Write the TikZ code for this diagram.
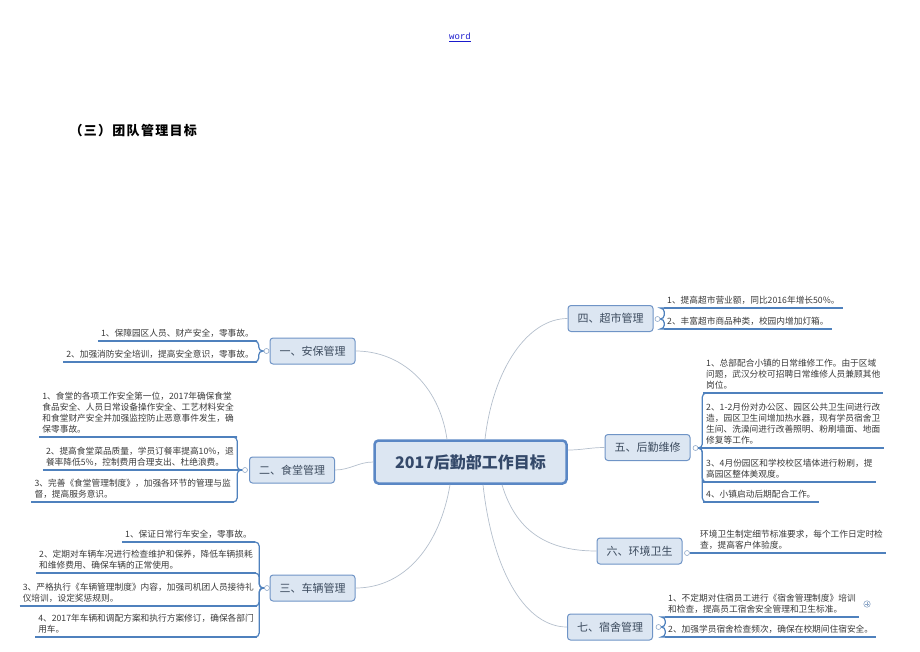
\documentclass[tikz,border=0pt]{standalone}
\usepackage{fontspec}
\setmainfont{Noto Sans CJK SC}
\newfontfamily\wordfont{Liberation Mono}
\usetikzlibrary{calc}
\definecolor{boxfill}{HTML}{DCE6F2}
\definecolor{boxline}{HTML}{6F94C6}
\definecolor{ctrline}{HTML}{5A87C5}
\definecolor{boxtext}{HTML}{3C4B5E}
\definecolor{ctrtext}{HTML}{34496A}
\definecolor{ulcol}{HTML}{4F81BD}
\definecolor{conncol}{HTML}{B4BFCC}
\definecolor{leafgray}{HTML}{3A3A3A}
\definecolor{knob}{HTML}{8FA8C8}
\definecolor{linkblue}{HTML}{1A1ACC}
\begin{document}
\begin{tikzpicture}[x=1pt,y=-1pt,
  branch/.style={draw=boxline, line width=1pt, fill=boxfill, rounded corners=3pt,
    minimum width=85pt, minimum height=26pt, inner sep=0pt, text=boxtext,
    font=\fontsize{11}{13}\selectfont},
  center/.style={draw=ctrline, line width=2.5pt, fill=boxfill, rounded corners=4pt,
    minimum width=192pt, minimum height=43pt, inner sep=0pt, text=ctrtext,
    font=\fontsize{16}{18}\selectfont\bfseries},
  leaf/.style={inner xsep=3pt, inner ysep=3.5pt, align=left, text=leafgray,
    font=\fontsize{8.7}{11}\selectfont},
  uline/.style={draw=ulcol, line width=1.7pt},
  brc/.style={draw=ulcol, line width=1.2pt, rounded corners=4pt},
  conn/.style={draw=conncol, line width=0.7pt},
  knobc/.style={circle, draw=knob, fill=white, line width=0.6pt, minimum size=5pt, inner sep=0pt},
  marker/.style={circle, draw=knob, line width=0.6pt, minimum size=6.5pt, inner sep=0pt}
]
\useasboundingbox (0,0) rectangle (920,651);

% header texts
\node[text=linkblue, font=\wordfont\fontsize{9}{10}\selectfont] (word) at (460,37) {\underline{word}};
\node[anchor=west, font=\fontsize{13}{15}\selectfont\bfseries, text=black] (head) at (66,131)
  {\addfontfeature{LetterSpace=10}（三）团队管理目标};

% central node
\node[center] (ctr) at (470.5,462) {2017后勤部工作目标};

% branches
\node[branch] (b1) at (312.5,351) {一、安保管理};
\node[branch] (b2) at (292,470) {二、食堂管理};
\node[branch] (b3) at (312.5,588) {三、车辆管理};
\node[branch] (b4) at (610.5,318.5) {四、超市管理};
\node[branch] (b5) at (647.5,447.5) {五、后勤维修};
\node[branch] (b6) at (639.5,551) {六、环境卫生};
\node[branch] (b7) at (610,627) {七、宿舍管理};

% central connectors
\draw[conn] ($(ctr.north)+(-23.5,0)$) .. controls +(-8,-55) and +(45,0) .. (b1.east);
\draw[conn] (ctr.west) .. controls +(-15,0) and +(15,0) .. (b2.east);
\draw[conn] ($(ctr.south)+(-20.5,0)$) .. controls +(-10,60) and +(50,0) .. (b3.east);
\draw[conn] ($(ctr.north)+(14.5,0)$) .. controls +(8,-70) and +(-40,0) .. (b4.west);
\draw[conn] ($(ctr.east)+(0,-12)$) .. controls +(15,0) and +(-15,0) .. (b5.west);
\draw[conn] ($(ctr.south)+(31.5,0)$) .. controls +(15,50) and +(-45,0) .. (b6.west);
\draw[conn] ($(ctr.south)+(12.5,0)$) .. controls +(10,90) and +(-40,0) .. (b7.west);

% knobs
\node[knobc] (c1) at (266.5,351) {};
\node[knobc] (c2) at (245,470) {};
\node[knobc] (c3) at (267,588) {};
\node[knobc] (c4) at (657.5,319) {};
\node[knobc] (c5) at (695.5,448) {};
\node[knobc] (c6) at (687,553) {};
\node[knobc] (c7) at (658.5,627) {};

% group 1
\node[leaf, anchor=south east] (l11) at (257,341) {1、保障园区人员、财产安全，零事故。};
\node[leaf, anchor=south east] (l12) at (257,362) {2、加强消防安全培训，提高安全意识，零事故。};
\foreach \n in {l11,l12} \draw[uline] (\n.south west) -- (\n.south east);
\draw[brc] (c1.west) -- ++(-5,0) |- (l11.south east);
\draw[brc] (c1.west) -- ++(-5,0) |- (l12.south east);

% group 2
\node[leaf, anchor=south east] (l21) at (237,437) {1、食堂的各项工作安全第一位，2017年确保食堂\\食品安全、人员日常设备操作安全、工艺材料安全\\和食堂财产安全并加强监控防止恶意事件发生，确\\保零事故。};
\node[leaf, anchor=south east] (l22) at (237,470) {2、提高食堂菜品质量，学员订餐率提高10\%，退\\餐率降低5\%，控制费用合理支出、杜绝浪费。};
\node[leaf, anchor=south east] (l23) at (234,502) {3、完善《食堂管理制度》，加强各环节的管理与监\\督，提高服务意识。};
\foreach \n in {l21,l22,l23} \draw[uline] (\n.south west) -- (\n.south east);
\draw[brc] (c2.west) -- ++(-5,0) |- (l21.south east);
\draw[brc] (c2.west) -- (l22.south east);
\draw[brc] (c2.west) -- ++(-5,0) |- (l23.south east);

% group 3
\node[leaf, anchor=south east] (l31) at (255,542) {1、保证日常行车安全，零事故。};
\node[leaf, anchor=south east] (l32) at (256,573) {2、定期对车辆车况进行检查维护和保养，降低车辆损耗\\和维修费用、确保车辆的正常使用。};
\node[leaf, anchor=south east] (l33) at (257,606) {3、严格执行《车辆管理制度》内容，加强司机团人员接待礼\\仪培训，设定奖惩规则。};
\node[leaf, anchor=south east] (l34) at (257,637) {4、2017年车辆和调配方案和执行方案修订，确保各部门\\用车。};
\foreach \n in {l31,l32,l33,l34} \draw[uline] (\n.south west) -- (\n.south east);
\foreach \n in {l31,l32,l33,l34} \draw[brc] (c3.west) -- ++(-5,0) |- (\n.south east);

% group 4
\node[leaf, anchor=south west] (l41) at (664,308) {1、提高超市营业额，同比2016年增长50\%。};
\node[leaf, anchor=south west] (l42) at (664,329) {2、丰富超市商品种类，校园内增加灯箱。};
\foreach \n in {l41,l42} \draw[uline] (\n.south west) -- (\n.south east);
\foreach \n in {l41,l42} \draw[brc] (c4.east) -- ++(4,0) |- (\n.south west);

% group 5
\node[leaf, anchor=south west] (l51) at (703,393) {1、总部配合小镇的日常维修工作。由于区域\\问题，武汉分校可招聘日常维修人员兼顾其他\\岗位。};
\node[leaf, anchor=south west] (l52) at (703,448) {2、1-2月份对办公区、园区公共卫生间进行改\\造，园区卫生间增加热水器，现有学员宿舍卫\\生间、洗澡间进行改善照明、粉刷墙面、地面\\修复等工作。};
\node[leaf, anchor=south west] (l53) at (703,482) {3、4月份园区和学校校区墙体进行粉刷，提\\高园区整体美观度。};
\node[leaf, anchor=south west] (l54) at (703,502) {4、小镇启动后期配合工作。};
\foreach \n in {l51,l52,l53,l54} \draw[uline] (\n.south west) -- (\n.south east);
\draw[brc] (c5.east) -- ++(4,0) |- (l51.south west);
\draw[brc] (c5.east) -- (l52.south west);
\draw[brc] (c5.east) -- ++(4,0) |- (l53.south west);
\draw[brc] (c5.east) -- ++(4,0) |- (l54.south west);

% group 6
\node[leaf, anchor=south west] (l61) at (697,553) {环境卫生制定细节标准要求，每个工作日定时检\\查，提高客户体验度。};
\draw[uline] (l61.south west) -- (l61.south east);
\draw[brc] (c6.east) -- (l61.south west);

% group 7
\node[leaf, anchor=south west] (l71) at (665,617) {1、不定期对住宿员工进行《宿舍管理制度》培训\\和检查，提高员工宿舍安全管理和卫生标准。};
\node[leaf, anchor=south west] (l72) at (665,637) {2、加强学员宿舍检查频次，确保在校期间住宿安全。};
\foreach \n in {l71,l72} \draw[uline] (\n.south west) -- (\n.south east);
\foreach \n in {l71,l72} \draw[brc] (c7.east) -- ++(4,0) |- (\n.south west);
\node[marker] (m7) at (867,604) {};
\draw[knob, line width=0.6pt] ($(m7.center)+(-1.8,0)$) -- ($(m7.center)+(1.8,0)$);
\draw[knob, line width=0.6pt] ($(m7.center)+(0,-1.8)$) -- ($(m7.center)+(0,1.8)$);
\end{tikzpicture}
\end{document}
